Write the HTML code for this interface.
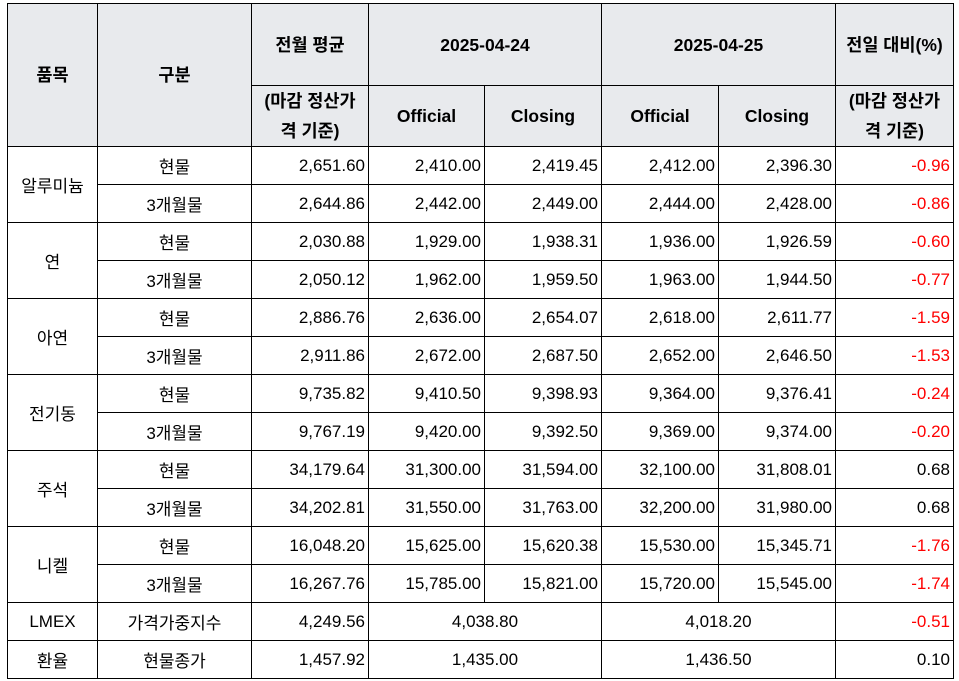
<!DOCTYPE html>
<html><head><meta charset="utf-8"><style>
body{margin:0;background:#fff;width:959px;height:681px;overflow:hidden}
table{position:absolute;left:7px;top:3px;border-collapse:collapse;table-layout:fixed;font-family:"Liberation Sans","Noto Sans CJK KR",sans-serif;font-size:17px;color:#000}
td{border:1.5px solid #000;padding:0 3px;white-space:nowrap;overflow:hidden}
thead td{background:#e8eaed;font-weight:bold;text-align:center;line-height:30px;font-size:17.5px}
tbody td{height:37px;text-align:right}
.c{text-align:center!important}
.r{color:#ff0000}
</style></head><body>
<table>
<colgroup><col style="width:90px"><col style="width:154px"><col style="width:117px"><col style="width:116px"><col style="width:117px"><col style="width:117px"><col style="width:117px"><col style="width:118px"></colgroup>
<thead>
<tr style="height:82px"><td rowspan="2">품목</td><td rowspan="2">구분</td><td>전월 평균</td><td colspan="2">2025-04-24</td><td colspan="2">2025-04-25</td><td>전일 대비(%)</td></tr>
<tr style="height:61px"><td style="white-space:normal">(마감 정산가<br>격 기준)</td><td>Official</td><td>Closing</td><td>Official</td><td>Closing</td><td style="white-space:normal">(마감 정산가<br>격 기준)</td></tr>
</thead>
<tbody>
<tr><td class="c" rowspan="2">알루미늄</td><td class="c">현물</td><td>2,651.60</td><td>2,410.00</td><td>2,419.45</td><td>2,412.00</td><td>2,396.30</td><td class="r">-0.96</td></tr>
<tr><td class="c">3개월물</td><td>2,644.86</td><td>2,442.00</td><td>2,449.00</td><td>2,444.00</td><td>2,428.00</td><td class="r">-0.86</td></tr>
<tr><td class="c" rowspan="2">연</td><td class="c">현물</td><td>2,030.88</td><td>1,929.00</td><td>1,938.31</td><td>1,936.00</td><td>1,926.59</td><td class="r">-0.60</td></tr>
<tr><td class="c">3개월물</td><td>2,050.12</td><td>1,962.00</td><td>1,959.50</td><td>1,963.00</td><td>1,944.50</td><td class="r">-0.77</td></tr>
<tr><td class="c" rowspan="2">아연</td><td class="c">현물</td><td>2,886.76</td><td>2,636.00</td><td>2,654.07</td><td>2,618.00</td><td>2,611.77</td><td class="r">-1.59</td></tr>
<tr><td class="c">3개월물</td><td>2,911.86</td><td>2,672.00</td><td>2,687.50</td><td>2,652.00</td><td>2,646.50</td><td class="r">-1.53</td></tr>
<tr><td class="c" rowspan="2">전기동</td><td class="c">현물</td><td>9,735.82</td><td>9,410.50</td><td>9,398.93</td><td>9,364.00</td><td>9,376.41</td><td class="r">-0.24</td></tr>
<tr><td class="c">3개월물</td><td>9,767.19</td><td>9,420.00</td><td>9,392.50</td><td>9,369.00</td><td>9,374.00</td><td class="r">-0.20</td></tr>
<tr><td class="c" rowspan="2">주석</td><td class="c">현물</td><td>34,179.64</td><td>31,300.00</td><td>31,594.00</td><td>32,100.00</td><td>31,808.01</td><td>0.68</td></tr>
<tr><td class="c">3개월물</td><td>34,202.81</td><td>31,550.00</td><td>31,763.00</td><td>32,200.00</td><td>31,980.00</td><td>0.68</td></tr>
<tr><td class="c" rowspan="2">니켈</td><td class="c">현물</td><td>16,048.20</td><td>15,625.00</td><td>15,620.38</td><td>15,530.00</td><td>15,345.71</td><td class="r">-1.76</td></tr>
<tr><td class="c">3개월물</td><td>16,267.76</td><td>15,785.00</td><td>15,821.00</td><td>15,720.00</td><td>15,545.00</td><td class="r">-1.74</td></tr>
<tr><td class="c" style="height:36px">LMEX</td><td class="c">가격가중지수</td><td>4,249.56</td><td class="c" colspan="2">4,038.80</td><td class="c" colspan="2">4,018.20</td><td class="r">-0.51</td></tr>
<tr><td class="c" style="height:36px">환율</td><td class="c">현물종가</td><td>1,457.92</td><td class="c" colspan="2">1,435.00</td><td class="c" colspan="2">1,436.50</td><td>0.10</td></tr>
</tbody>
</table>
</body></html>
